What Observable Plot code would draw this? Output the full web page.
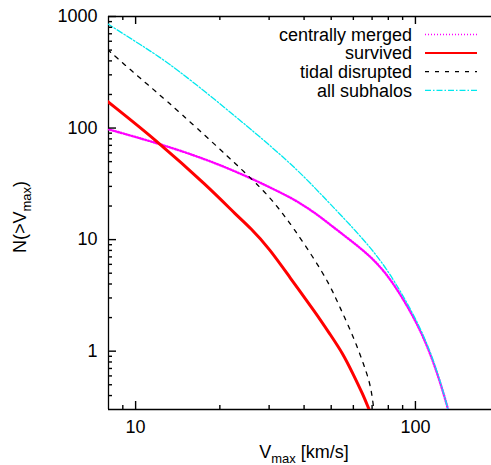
<!DOCTYPE html>
<html><head><meta charset="utf-8">
<script src="https://cdn.jsdelivr.net/npm/d3@7"></script>
<script src="https://cdn.jsdelivr.net/npm/@observablehq/plot@0.6"></script>
<style>html,body{margin:0;padding:0;background:#fff;overflow:hidden}svg{display:block}</style>
</head><body><div id="chart"></div>
<script>
// Series names (legend order)
const seriesNames = ["centrally merged", "survived", "tidal disrupted", "all subhalos"];

// centrally merged (magenta, dotted)
const mergedV = [7.94, 12.0, 18.1, 25.6, 33.6, 37.9, 44.3, 49.4, 58.2, 68.6, 78.8, 90.3, 103.6, 115.6, 125.5, 130.8];
const mergedN = [98, 73.2, 52, 36, 25.8, 22, 17, 13.7, 10.0, 7.2, 4.97, 2.97, 1.60, 0.826, 0.435, 0.3];

// survived (red, solid)
const survivedV = [7.94, 12.0, 18.1, 23.2, 25.6, 30.1, 35.5, 44.3, 49.4, 55.1, 59.8, 64.9, 68.3];
const survivedN = [173, 75.8, 30, 16.1, 12.9, 8.3, 4.61, 2.16, 1.43, 0.95, 0.627, 0.41, 0.3];

// tidal disrupted (black, dashed)
const tidalV = [7.94, 10.3, 13.75, 25.8, 30.1, 33.1, 36.5, 43.1, 49.4, 53.6, 59.8, 64.9, 68.6, 70.1, 71.0];
const tidalN = [505, 284, 154, 36, 24.0, 17.9, 12.9, 6.96, 3.95, 2.5, 1.38, 0.8, 0.53, 0.39, 0.3];

// all subhalos (cyan, dash-dot)
const allV = [7.94, 10.4, 13.75, 23.8, 31, 37.9, 44.3, 49.4, 58.2, 68.6, 78.8, 90.3, 103.6, 115.6, 125.5, 130.8];
const allN = [860, 560, 356, 116, 66, 42, 28.1, 21.1, 13.7, 8.68, 5.51, 3.16, 1.67, 0.86, 0.444, 0.3];

// Axis ticks
const xMajor = [10, 100];
const xMinor = [9, 20, 30, 40, 50, 60, 70, 80, 90];
const yMajor = [1, 10, 100, 1000];
const yMinor = [0.4, 0.5, 0.6, 0.7, 0.8, 0.9, 2, 3, 4, 5, 6, 7, 8, 9, 20, 30, 40, 50, 60, 70, 80, 90, 200, 300, 400, 500, 600, 700, 800, 900];
const xDomain = [8, 187];
const yDomain = [0.3, 1000];

const toRows = (vs, ns) => vs.map((v, i) => ({v, n: ns[i]}));
const mergedRows = toRows(mergedV, mergedN);
const survivedRows = toRows(survivedV, survivedN);
const tidalRows = toRows(tidalV, tidalN);
const allRows = toRows(allV, allN);

const colors = ["#ff00ff", "#ff0000", "#000000", "#00e8ee"];
const widths = [2.4, 3, 1.3, 1.3];
const dashes = ["1,1.8", null, "4,6", "6,2,1.5,2"];

const font = "'Liberation Sans', Arial, Helvetica, sans-serif";

const W = 491, H = 465, mL = 108, mR = 0, mT = 16, mB = 56;
const innerW = W - mL - mR, innerH = H - mT - mB;
const tickStyle = {stroke: "#000", strokeWidth: 1.4};

const chart = Plot.plot({
  width: W, height: H,
  marginLeft: mL, marginRight: mR, marginTop: mT, marginBottom: mB,
  style: {fontFamily: font, fontSize: "18px", background: "#fff", color: "#000"},
  x: {type: "log", domain: xDomain, axis: null},
  y: {type: "log", domain: yDomain, axis: null},
  marks: [
    // tick labels
    Plot.axisX(xMajor, {anchor: "bottom", tickSize: 0, tickPadding: 11, tickFormat: d => String(d), fontSize: 18, label: null}),
    Plot.axisY(yMajor, {anchor: "left", tickSize: 0, tickPadding: 11, tickFormat: d => String(d), fontSize: 18, label: null}),
    // frame (top, bottom, left)
    Plot.ruleY(yDomain, {stroke: "#000", strokeWidth: 1.3}),
    Plot.ruleX([xDomain[0]], {stroke: "#000", strokeWidth: 1.3}),
    // series
    Plot.line(mergedRows, {x: "v", y: "n", stroke: colors[0], strokeWidth: widths[0], strokeDasharray: dashes[0], curve: "basis", clip: true}),
    Plot.line(survivedRows, {x: "v", y: "n", stroke: colors[1], strokeWidth: widths[1], curve: "basis", clip: true}),
    Plot.line(tidalRows, {x: "v", y: "n", stroke: colors[2], strokeWidth: widths[2], strokeDasharray: dashes[2], curve: "basis", clip: true}),
    Plot.line(allRows, {x: "v", y: "n", stroke: colors[3], strokeWidth: widths[3], strokeDasharray: dashes[3], curve: "basis", clip: true}),
    // inward ticks (bottom, mirrored top, left)
    Plot.ruleX(xMajor, {...tickStyle, insetTop: innerH - 8}),
    Plot.ruleX(xMinor, {...tickStyle, insetTop: innerH - 4}),
    Plot.ruleX(xMajor, {...tickStyle, insetBottom: innerH - 8}),
    Plot.ruleX(xMinor, {...tickStyle, insetBottom: innerH - 4}),
    Plot.ruleY(yMajor, {...tickStyle, insetRight: innerW - 8}),
    Plot.ruleY(yMinor, {...tickStyle, insetRight: innerW - 4})
  ]
});

const svg = d3.select(chart);
// Legend
const leg = svg.append("g").attr("font-family", font).attr("font-size", 18);
seriesNames.forEach((name, i) => {
  const yy = 34.5 + i * 18.6;
  leg.append("text").attr("x", 412).attr("y", yy).attr("dy", "0.35em")
    .attr("text-anchor", "end").attr("fill", "#000").text(name);
  const ln = leg.append("line").attr("x1", 425).attr("x2", 477).attr("y1", yy).attr("y2", yy)
    .attr("stroke", colors[i]).attr("stroke-width", i === 1 ? 2 : (i === 0 ? 1.6 : widths[i]));
  if (dashes[i]) ln.attr("stroke-dasharray", i === 0 ? "1,2" : dashes[i]);
});
// Axis titles
const xt = svg.append("text").attr("x", 304).attr("y", 458).attr("text-anchor", "middle")
  .attr("font-family", font).attr("font-size", 18).attr("fill", "#000");
xt.append("tspan").text("V");
xt.append("tspan").attr("font-size", 13).attr("dy", 5).text("max");
xt.append("tspan").attr("dy", -5).text(" [km/s]");
const yt = svg.append("text").attr("transform", "translate(26,217) rotate(-90)").attr("text-anchor", "middle")
  .attr("font-family", font).attr("font-size", 18).attr("fill", "#000");
yt.append("tspan").text("N(>V");
yt.append("tspan").attr("font-size", 13).attr("dy", 5).text("max");
yt.append("tspan").attr("dy", -5).text(")");

document.getElementById("chart").appendChild(chart);
</script></body></html>
